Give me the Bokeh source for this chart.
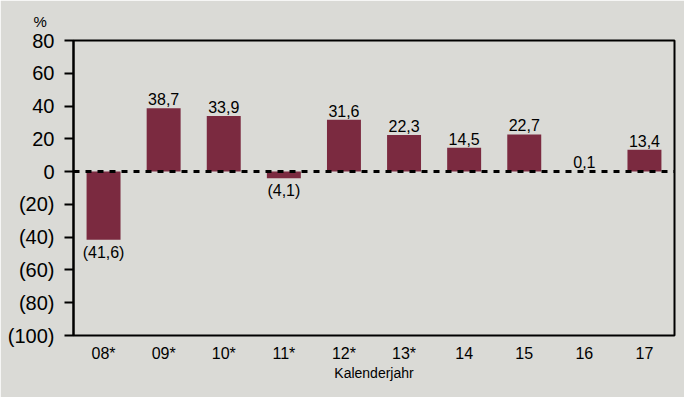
from bokeh.plotting import figure
from bokeh.models import Span, Title, FixedTicker, ColumnDataSource, Range1d
from bokeh.core.properties import value
from bokeh.embed import file_html
from bokeh.resources import INLINE

categories = ["08*", "09*", "10*", "11*", "12*", "13*", "14", "15", "16", "17"]
values = [-41.6, 38.7, 33.9, -4.1, 31.6, 22.3, 14.5, 22.7, 0.1, 13.4]
value_labels = ["(41,6)", "38,7", "33,9", "(4,1)", "31,6", "22,3", "14,5", "22,7", "0,1", "13,4"]
y_ticks = [-100, -80, -60, -40, -20, 0, 20, 40, 60, 80]
y_tick_labels = ["(100)", "(80)", "(60)", "(40)", "(20)", "0", "20", "40", "60", "80"]

BG = "#DADAD6"
BAR = "#7B2A40"
FONT = "Liberation Sans"

p = figure(x_range=categories, y_range=Range1d(-100, 80),
           width=684, height=397, output_backend="svg", toolbar_location=None,
           min_border_left=73, min_border_right=10, min_border_top=39, min_border_bottom=62)
p.background_fill_color = BG
p.border_fill_color = BG
p.outline_line_color = "black"
p.outline_line_width = 2
p.xgrid.visible = False
p.ygrid.visible = False

src = ColumnDataSource(dict(x=categories, top=values, lab=value_labels))
p.vbar(x="x", top="top", bottom=0, width=0.565, source=src, fill_color=BAR, line_color=None)

pos = [i for i, v in enumerate(values) if v >= 0]
neg = [i for i, v in enumerate(values) if v < 0]
src_pos = ColumnDataSource(dict(x=[categories[i] for i in pos], y=[values[i] for i in pos],
                                lab=[value_labels[i] for i in pos]))
src_neg = ColumnDataSource(dict(x=[categories[i] for i in neg], y=[values[i] for i in neg],
                                lab=[value_labels[i] for i in neg]))
p.text(x="x", y="y", text="lab", source=src_pos, text_align="center", text_baseline="bottom",
       y_offset=-3, text_font=value(FONT), text_font_size="16px", text_color="black")
p.text(x="x", y="y", text="lab", source=src_neg, text_align="center", text_baseline="top",
       y_offset=4, text_font=value(FONT), text_font_size="16px", text_color="black")

p.add_layout(Span(location=0, dimension="width", line_color="black", line_width=3, line_dash="6 6"))

# y axis
ya = p.yaxis[0]
ya.ticker = FixedTicker(ticks=y_ticks)
ya.major_label_overrides = {t: l for t, l in zip(y_ticks, y_tick_labels)}
ya.major_tick_in = 0
ya.major_tick_out = 9
ya.major_tick_line_width = 2
ya.minor_tick_line_color = None
ya.axis_line_width = 2
ya.major_label_standoff = 10
ya.major_label_text_font = FONT
ya.major_label_text_font_size = "20px"
ya.major_label_text_color = "black"

# x axis
xa = p.xaxis[0]
xa.axis_line_color = None
xa.major_tick_line_color = None
xa.minor_tick_line_color = None
xa.major_label_standoff = 3
xa.major_label_text_font = FONT
xa.major_label_text_font_size = "16px"
xa.major_label_text_color = "black"
xa.axis_label = "Kalenderjahr"
xa.axis_label_text_font = FONT
xa.axis_label_text_font_size = "14px"
xa.axis_label_text_font_style = "normal"
xa.axis_label_text_color = "black"
xa.axis_label_standoff = 0

p.add_layout(Title(text="%", align="left", offset=-40, standoff=21,
                   text_font=FONT, text_font_size="15px", text_font_style="normal",
                   text_color="black"), "above")

open("out.html", "w").write(file_html(p, INLINE))
